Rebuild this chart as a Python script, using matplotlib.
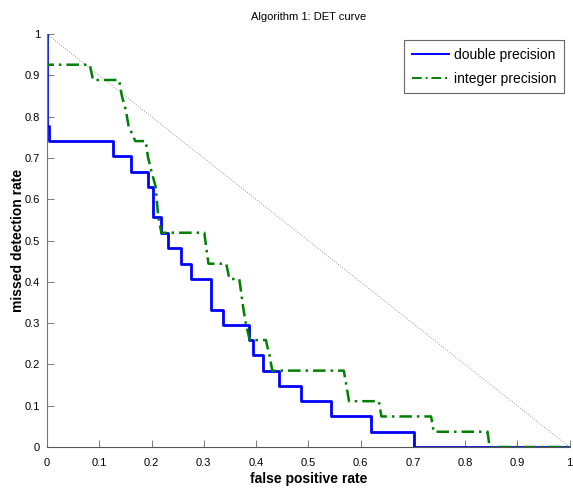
import numpy as np
import matplotlib.pyplot as plt

plt.rcParams['font.family'] = ['Liberation Sans', 'DejaVu Sans']

# Curva DET - precision doble (tasa de falsos positivos vs tasa de deteccion perdida)
fpr_doble = [0, 0, 0.004, 0.004, 0.126, 0.126, 0.161, 0.161, 0.193, 0.193, 0.203, 0.203,
             0.219, 0.219, 0.232, 0.232, 0.257, 0.257, 0.276, 0.276, 0.314, 0.314,
             0.337, 0.337, 0.386, 0.386, 0.395, 0.395, 0.413, 0.413, 0.444, 0.444,
             0.486, 0.486, 0.544, 0.544, 0.620, 0.620, 0.702, 0.702, 1.0]
mdr_doble = [1, 0.778, 0.778, 0.741, 0.741, 0.704, 0.704, 0.667, 0.667, 0.630, 0.630, 0.556,
             0.556, 0.519, 0.519, 0.481, 0.481, 0.444, 0.444, 0.407, 0.407, 0.333,
             0.333, 0.296, 0.296, 0.259, 0.259, 0.222, 0.222, 0.185, 0.185, 0.148,
             0.148, 0.111, 0.111, 0.074, 0.074, 0.037, 0.037, 0, 0]

# Curva DET - precision entera
fpr_entero = [0, 0, 0.082, 0.088, 0.138, 0.143, 0.151, 0.156, 0.169, 0.189, 0.193, 0.200,
              0.208, 0.213, 0.219, 0.301, 0.305, 0.309, 0.343, 0.349, 0.368, 0.372,
              0.376, 0.381, 0.388, 0.419, 0.422, 0.426, 0.431, 0.568, 0.578, 0.635,
              0.640, 0.735, 0.740, 0.843, 0.847, 1.0]
mdr_entero = [1, 0.926, 0.926, 0.889, 0.889, 0.852, 0.815, 0.778, 0.741, 0.741, 0.704, 0.667,
              0.630, 0.556, 0.519, 0.519, 0.481, 0.444, 0.444, 0.407, 0.407, 0.370,
              0.333, 0.296, 0.259, 0.259, 0.241, 0.222, 0.185, 0.185, 0.111, 0.111,
              0.074, 0.074, 0.037, 0.037, 0, 0]

ticks = [0, 0.1, 0.2, 0.3, 0.4, 0.5, 0.6, 0.7, 0.8, 0.9, 1]
tick_labels = ['0', '0.1', '0.2', '0.3', '0.4', '0.5', '0.6', '0.7', '0.8', '0.9', '1']

fig = plt.figure(figsize=(5.73, 4.88), dpi=100)
ax = fig.add_axes([0.082, 0.084, 0.912, 0.846])

# Linea de azar
ax.plot([0, 1], [1, 0], linestyle=':', color='#999999', linewidth=0.7)
ax.plot(fpr_doble, mdr_doble, color='#0000ff', linewidth=2.0, label='double precision')
ax.plot(fpr_entero, mdr_entero, color='#008000', linewidth=1.8, linestyle='-.',
        dashes=(5, 2, 1, 2), label='integer precision')

ax.set_xlim(0, 1)
ax.set_ylim(0, 1)
ax.set_xticks(ticks)
ax.set_xticklabels(tick_labels)
ax.set_yticks(ticks)
ax.set_yticklabels(tick_labels)
ax.tick_params(direction='in', length=5, width=0.6, color='#666666', labelsize=8)
ax.tick_params(axis='x', pad=8)
ax.tick_params(axis='y', pad=5)

ax.spines['top'].set_visible(False)
ax.spines['right'].set_visible(False)
ax.spines['left'].set_color('#777777')
ax.spines['bottom'].set_color('#555555')
ax.spines['left'].set_linewidth(0.8)
ax.spines['bottom'].set_linewidth(0.8)

ax.set_title('Algorithm 1: DET curve', fontsize=8, pad=10)
ax.set_xlabel('false positive rate', fontsize=10, fontweight='bold', labelpad=3)
ax.set_ylabel('missed detection rate', fontsize=10, fontweight='bold', labelpad=0)

leg = ax.legend(loc='upper right', fontsize=10, fancybox=False, framealpha=1,
                edgecolor='#666666', borderpad=0.55, handlelength=2.7, handletextpad=0.35,
                labelspacing=0.7, borderaxespad=0, bbox_to_anchor=(0.99, 0.985))
leg.get_frame().set_linewidth(0.8)
for linea in leg.get_lines():
    linea.set_linewidth(1.4)

fig.savefig('out.png', dpi=100)
